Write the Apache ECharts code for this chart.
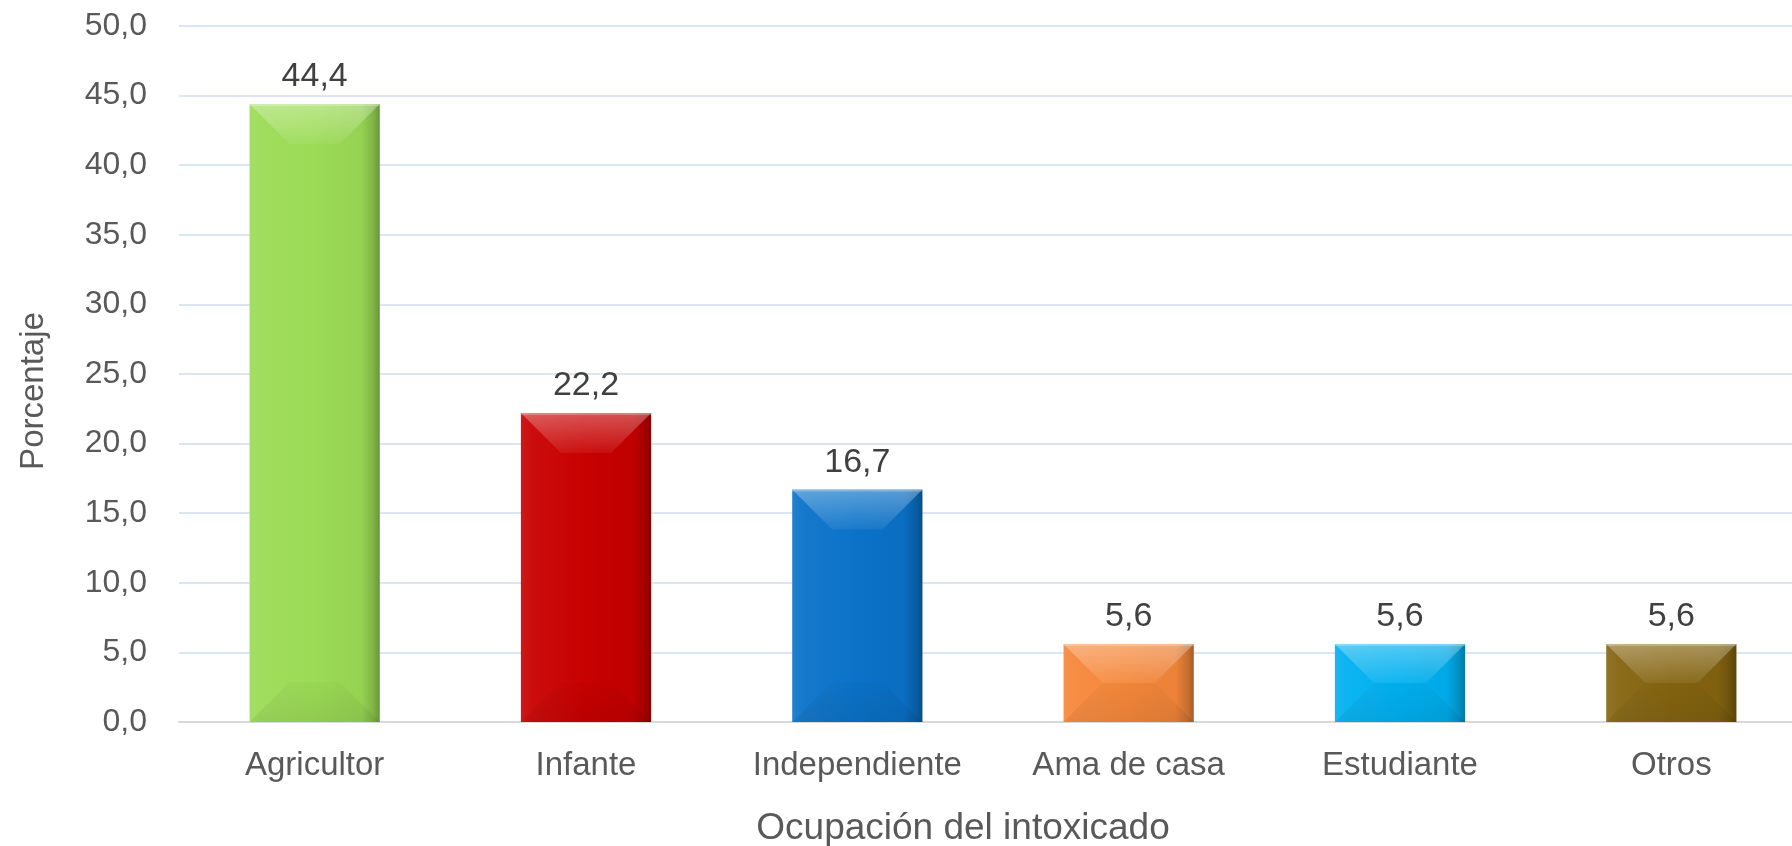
<!DOCTYPE html>
<html>
<head>
<meta charset="utf-8">
<script src="https://cdn.jsdelivr.net/npm/echarts@6/dist/echarts.min.js"></script>
<style>
html,body{margin:0;padding:0;background:#fff;}
#chart{width:1792px;height:846px;}
</style>
</head>
<body>
<div id="chart"></div>
<script>
const categories = ['Agricultor', 'Infante', 'Independiente', 'Ama de casa', 'Estudiante', 'Otros'];
const values = [44.4, 22.2, 16.7, 5.6, 5.6, 5.6];
const yTicks = [0, 5, 10, 15, 20, 25, 30, 35, 40, 45, 50];
const xAxisTitle = 'Ocupación del intoxicado';
const yAxisTitle = 'Porcentaje';

const barColors = ['#9bdb55', '#c80000', '#0a72c8', '#f5873a', '#00b0f0', '#846410'];

const fmt = v => Number(v).toFixed(1).replace('.', ',');
const FONT = '"Liberation Sans", Arial, sans-serif';

function mix(hex, target, t) {
  const n = parseInt(hex.slice(1), 16);
  const r = (n >> 16) & 255, g = (n >> 8) & 255, b = n & 255;
  const m = c => Math.round(c + (target - c) * t);
  return 'rgb(' + m(r) + ',' + m(g) + ',' + m(b) + ')';
}
function barFill(c) {
  return {
    type: 'linear', x: 0, y: 0, x2: 1, y2: 0,
    colorStops: [
      { offset: 0, color: mix(c, 255, 0.10) },
      { offset: 0.08, color: mix(c, 255, 0.05) },
      { offset: 0.5, color: c },
      { offset: 0.86, color: mix(c, 0, 0.04) },
      { offset: 0.95, color: mix(c, 0, 0.18) },
      { offset: 1, color: mix(c, 0, 0.32) }
    ]
  };
}

const chart = echarts.init(document.getElementById('chart'), null, { renderer: 'canvas' });

chart.setOption({
  animation: false,
  backgroundColor: '#ffffff',
  grid: { left: 179, right: -15, top: 26, bottom: 124, containLabel: false, outerBoundsMode: 'none' },
  xAxis: {
    type: 'category',
    data: categories,
    axisTick: { show: false },
    axisLine: { lineStyle: { color: '#d9d9d9', width: 2 } },
    axisLabel: { color: '#595959', fontSize: 33, fontFamily: FONT, margin: 27, interval: 0 },
    name: xAxisTitle,
    nameLocation: 'middle',
    nameGap: 88,
    nameTextStyle: { color: '#595959', fontSize: 37, fontFamily: FONT, padding: [0, 60, 0, 0] }
  },
  yAxis: {
    type: 'value',
    min: yTicks[0],
    max: yTicks[yTicks.length - 1],
    interval: yTicks[1] - yTicks[0],
    axisLine: { show: false },
    axisTick: { show: false },
    splitLine: { lineStyle: { color: '#dce6f2', width: 2 } },
    axisLabel: { color: '#595959', fontSize: 32, fontFamily: FONT, margin: 32, formatter: fmt },
    name: yAxisTitle,
    nameLocation: 'middle',
    nameGap: 129,
    nameRotate: 90,
    nameTextStyle: { color: '#595959', fontSize: 33, fontFamily: FONT, padding: [0, 34, 0, 0] }
  },
  series: [
    {
      type: 'bar',
      barWidth: '48%',
      data: values.map((v, i) => ({ value: v, itemStyle: { color: barFill(barColors[i]) } })),
      label: {
        show: true,
        position: 'top',
        distance: 10,
        color: '#404040',
        fontSize: 34,
        fontFamily: FONT,
        formatter: p => fmt(p.value)
      },
      z: 2
    },
    {
      type: 'custom',
      silent: true,
      z: 3,
      data: values.map((v, i) => [i, v]),
      renderItem: function (params, api) {
        const idx = api.value(0);
        const v = api.value(1);
        const top = api.coord([idx, v]);
        const base = api.coord([idx, 0]);
        const w = api.size([1, 0])[0] * 0.48;
        const x0 = top[0] - w / 2, x1 = top[0] + w / 2;
        const y0 = top[1], y1 = base[1];
        const h = y1 - y0;
        const d = Math.min(40, h / 2, w / 2);
        const poly = (pts, fill) => ({ type: 'polygon', shape: { points: pts }, style: { fill: fill } });
        const vgrad = (a, b) => ({
          type: 'linear', x: 0, y: 0, x2: 0, y2: 1,
          colorStops: [{ offset: 0, color: a }, { offset: 1, color: b }]
        });
        return {
          type: 'group',
          children: [
            poly([[x0, y0], [x1, y0], [x1 - d, y0 + d], [x0 + d, y0 + d]],
                 vgrad('rgba(255,255,255,0.32)', 'rgba(255,255,255,0.06)')),
            poly([[x0, y1], [x1, y1], [x1 - d, y1 - d], [x0 + d, y1 - d]],
                 vgrad('rgba(0,0,0,0.02)', 'rgba(0,0,0,0.07)')),
            { type: 'rect', shape: { x: x0, y: y0, width: w, height: 2 }, style: { fill: 'rgba(255,255,255,0.25)' } }
          ]
        };
      }
    }
  ]
});
</script>
</body>
</html>
